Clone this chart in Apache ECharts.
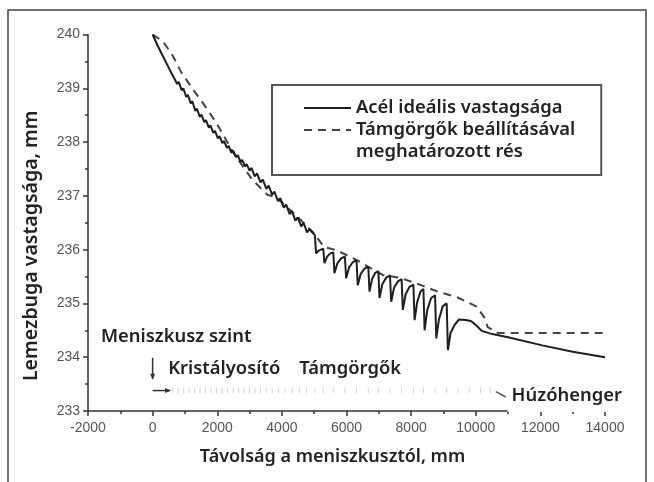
<!DOCTYPE html>
<html>
<head>
<meta charset="utf-8">
<script src="https://cdn.jsdelivr.net/npm/echarts@6/dist/echarts.min.js"></script>
<style>
html,body{margin:0;padding:0;background:#fff;}
#chart{width:654px;height:482px;}
</style>
</head>
<body>
<div id="chart"></div>
<script>
// tengelyek
var xMin = -2000, xMax = 14000, xStep = 2000;
var yMin = 233, yMax = 240, yStep = 1;

var seriesNames = ['Acél ideális vastagsága', 'Támgörgők beállításával meghatározott rés'];

// Acél ideális vastagsága (folytonos vonal)
var idealThickness = [
  [0,240.0],[150,239.8],[300,239.62],[450,239.44],[600,239.26],[700,239.15],
  [760,239.08],[810,239.12],[900,238.96],[950,239.0],[1040,238.84],[1090,238.88],[1180,238.72],[1230,238.76],
  [1320,238.58],[1370,238.62],[1460,238.47],[1510,238.51],[1600,238.37],[1650,238.41],[1740,238.27],[1790,238.31],
  [1880,238.17],[1930,238.21],[2020,238.07],[2070,238.11],[2160,237.98],[2210,238.02],[2300,237.89],[2350,237.93],
  [2440,237.8],[2490,237.84],[2580,237.72],[2630,237.76],[2720,237.63],[2770,237.67],[2860,237.55],[2910,237.59],
  [3000,237.47],[3060,237.52],[3160,237.36],[3230,237.42],[3340,237.25],[3410,237.3],[3520,237.13],[3590,237.19],
  [3700,237.02],[3770,237.08],[3880,236.9],[3950,236.96],[4060,236.78],[4130,236.84],[4240,236.66],[4310,236.72],
  [4420,236.54],[4490,236.6],[4600,236.43],[4670,236.5],[4780,236.32],[4850,236.38],
  [5020,236.27],[5059,235.93],[5140,235.98],
  [5280,236.02],[5317,235.75],[5400,235.87],[5500,235.93],
  [5590,235.95],[5627,235.56],[5720,235.75],[5840,235.84],
  [5950,235.87],[5989,235.47],[6080,235.67],[6200,235.77],
  [6310,235.8],[6349,235.34],[6440,235.55],[6560,235.65],
  [6675,235.68],[6712,235.22],[6790,235.45],[6890,235.57],
  [6985,235.6],[7022,235.1],[7110,235.36],[7230,235.48],
  [7345,235.52],[7384,235.03],[7470,235.29],[7590,235.41],
  [7705,235.45],[7744,234.88],[7830,235.17],[7950,235.31],
  [8070,235.35],[8107,234.69],[8190,235.03],[8290,235.22],
  [8380,235.27],[8417,234.5],[8500,234.88],[8620,235.1],
  [8740,235.15],[8779,234.35],[8860,234.7],[8980,234.95],
  [9100,235.0],[9139,234.13],[9220,234.45],[9346,234.6],[9475,234.7],[9700,234.69],[9863,234.67],
  [10000,234.6],[10186,234.49],[10509,234.43],[11000,234.37],[12060,234.22],[13000,234.1],[14000,234.0]
];

// Támgörgők beállításával meghatározott rés (szaggatott vonal)
var rollGap = [
  [0,240.0],[300,239.88],[574,239.66],[884,239.3],[1225,239.0],[1597,238.69],[1969,238.36],
  [2500,237.8],[3085,237.3],[3550,237.02],[3800,236.98],[4000,236.88],[4500,236.6],[5000,236.3],
  [5300,236.05],[5689,235.99],[6309,235.81],[7114,235.53],[7642,235.48],[8262,235.35],[8820,235.22],
  [9440,235.11],[10028,234.94],[10277,234.73],[10370,234.56],[10680,234.45],[14000,234.45]
];

// görgők helye (halvány jelölések az alsó sorban)
var rollPositions = [620,790,960,1130,1300,1470,1640,1810,1980,2150,2320,2490,2660,2830,3000,3170,3340,3510,
  3700,3900,4100,4320,4540,4760,5020,5280,5590,5950,6310,6675,6985,7345,7705,8070,8380,8740,9100,9450,9800,10150,10450];
var rollRowY = 233.38;

// feliratok (adat-koordinátákban)
var notes = [
  {text:'Meniszkusz szint', x:-1600, y:234.38},
  {text:'Kristályosító', x:480, y:233.78},
  {text:'Támgörgők', x:4540, y:233.78},
  {text:'Húzóhenger', x:11110, y:233.28, box:true}
];

var font = 'Noto Sans';
var labelFont = {fontFamily:font, fontSize:18.4, fontWeight:600, color:'#222'};
var chart = echarts.init(document.getElementById('chart'));

var option = {
  animation:false,
  grid:{left:88, right:49, top:34.5, bottom:71},
  legend:{
    left:272, top:85,
    orient:'vertical',
    padding:[12,26,12,31],
    borderColor:'#555', borderWidth:2,
    itemWidth:47, itemHeight:10, itemGap:-22,
    itemStyle:{opacity:0},
    textStyle:{fontFamily:font, fontSize:18.4, fontWeight:600, color:'#222', lineHeight:22},
    formatter:function(name){
      if(name === seriesNames[1]) return '\nTámgörgők beállításával\nmeghatározott rés';
      return name;
    },
    data:seriesNames
  },
  xAxis:{
    type:'value', min:xMin, max:xMax, interval:xStep,
    name:'Távolság a meniszkusztól, mm', nameLocation:'middle', nameGap:37,
    nameTextStyle:{fontFamily:font, fontSize:18, fontWeight:600, color:'#222', padding:[0,28,0,0]},
    axisLine:{onZero:false, lineStyle:{color:'#333', width:1.5}},
    axisTick:{length:5, lineStyle:{color:'#333', width:1.5}},
    minorTick:{show:true, splitNumber:2, length:3, lineStyle:{color:'#333', width:1.5}},
    splitLine:{show:false},
    axisLabel:{fontFamily:'Liberation Sans', fontSize:14, color:'#555', margin:10,
      formatter:function(v){ return String(v); }}
  },
  yAxis:{
    type:'value', min:yMin, max:yMax, interval:yStep,
    name:'Lemezbuga vastagsága, mm', nameLocation:'middle', nameGap:47,
    nameTextStyle:{fontFamily:font, fontSize:19.5, fontWeight:600, color:'#222', padding:[0,46,0,0]},
    axisLine:{show:true, onZero:false, lineStyle:{color:'#333', width:1.5}},
    axisTick:{show:true, length:5, lineStyle:{color:'#333', width:1.5}},
    minorTick:{show:true, splitNumber:2, length:3, lineStyle:{color:'#333', width:1.5}},
    splitLine:{show:false},
    axisLabel:{fontFamily:'Liberation Sans', fontSize:14, color:'#555', margin:8}
  },
  series:[
    {
      name:seriesNames[0], type:'line', data:idealThickness,
      symbol:'none', z:3,
      itemStyle:{color:'#1e1e1e'},
      lineStyle:{color:'#1e1e1e', width:2}
    },
    {
      name:seriesNames[1], type:'line', data:rollGap,
      symbol:'none', z:2,
      itemStyle:{color:'#444'},
      lineStyle:{color:'#444', width:2, type:[8,6]}
    },
    {
      name:'görgők', type:'scatter', silent:true,
      data:rollPositions.map(function(x){ return [x, rollRowY]; }),
      symbol:'rect', symbolSize:[1,6],
      itemStyle:{color:'#c8c8c8'}
    }
  ]
};
chart.setOption(option);

function px(x, y){ return chart.convertToPixel({gridIndex:0}, [x, y]); }

var graphics = [];
var axisY = px(0, yMin)[1];
notes.forEach(function(n){
  var p = px(n.x, n.y);
  if(n.box){
    graphics.push({type:'rect', z:9, shape:{x:p[0]-4, y:p[1]-14, width:116, height:axisY + 1 - (p[1]-14)},
      style:{fill:'#fff'}});
  }
  graphics.push({
    type:'text', x:p[0], y:p[1], z:10,
    style:{
      text:n.text, fontFamily:labelFont.fontFamily, fontSize:labelFont.fontSize, fontWeight:labelFont.fontWeight,
      fill:labelFont.color, verticalAlign:'middle', align:'left'
    }
  });
});
// meniszkusz nyíl (le)
var a0 = px(0, 233.99), a1 = px(0, 233.6);
graphics.push({type:'line', z:10, shape:{x1:a0[0], y1:a0[1], x2:a1[0], y2:a1[1]}, style:{stroke:'#333', lineWidth:1.5}});
graphics.push({type:'polygon', z:10, shape:{points:[[a1[0]-2.5,a1[1]-5],[a1[0]+2.5,a1[1]-5],[a1[0],a1[1]+1]]}, style:{fill:'#333'}});
// kristályosító nyíl (jobbra)
var b0 = px(0, rollRowY), b1 = px(540, rollRowY);
graphics.push({type:'line', z:10, shape:{x1:b0[0], y1:b0[1], x2:b1[0], y2:b1[1]}, style:{stroke:'#333', lineWidth:1.5}});
graphics.push({type:'polygon', z:10, shape:{points:[[b1[0]-5,b1[1]-2.5],[b1[0]-5,b1[1]+2.5],[b1[0]+1,b1[1]]]}, style:{fill:'#333'}});
// húzóhenger jel
var c0 = px(10620, 233.36), c1 = px(10930, 233.26);
graphics.push({type:'line', z:10, shape:{x1:c0[0], y1:c0[1], x2:c1[0], y2:c1[1]}, style:{stroke:'#555', lineWidth:1.5}});
// külső keret
graphics.push({type:'rect', z:0, shape:{x:8, y:10, width:638, height:480}, style:{fill:null, stroke:'#444', lineWidth:1.5}});

chart.setOption({graphic:graphics});
</script>
</body>
</html>
